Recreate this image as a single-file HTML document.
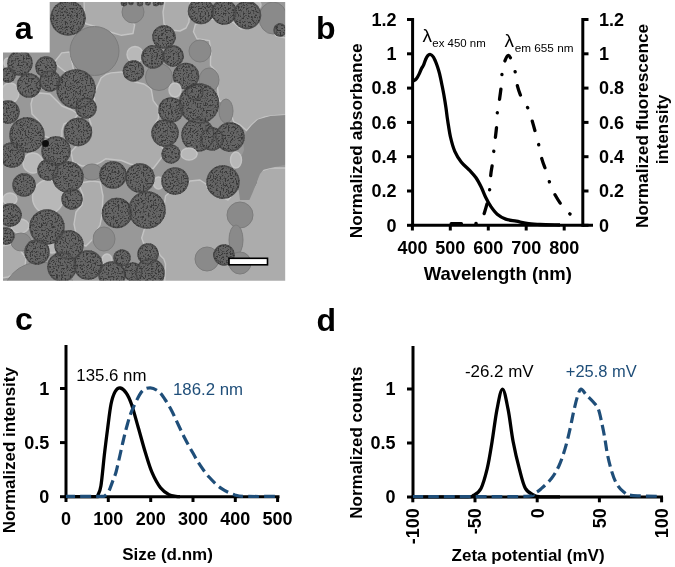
<!DOCTYPE html>
<html><head><meta charset="utf-8"><style>
html,body{margin:0;padding:0;background:#fff;}
svg{display:block;will-change:transform;}
</style></head><body>
<svg width="675" height="567" viewBox="0 0 675 567">
<rect width="675" height="567" fill="#fff"/>
<g id="tem">
<defs><clipPath id="temclip"><path d="M3,52.5 H49.7 V2 H285.2 V280.8 H3 Z"/></clipPath>
<filter id="spkf" filterUnits="userSpaceOnUse" x="0" y="0" width="290" height="285" color-interpolation-filters="sRGB"><feTurbulence type="fractalNoise" baseFrequency="0.6" numOctaves="2" seed="4"/><feColorMatrix type="matrix" values="0 0 0 0 0.22  0 0 0 0 0.22  0 0 0 0 0.22  -6 0 0 0 3.0"/><feComposite in2="SourceGraphic" operator="in"/></filter>
<filter id="tblur" x="0" y="0" width="1" height="1"><feGaussianBlur stdDeviation="0.75"/></filter></defs>
<g clip-path="url(#temclip)"><g filter="url(#tblur)">
<rect x="0" y="0" width="290" height="285" fill="#989898"/>
<polygon points="193.5,31.7 195.3,24.7 203,20.5 213,19 220,22.5 226,23.5 233,22 241,29 249,28 256,24.7 261,22 268,26 273,30 276,36 286,38 286,114.7 271,116 265,117 257,120 251.5,125 246.5,130.6 240.2,125 233.8,122 231.7,116.4 230.3,109.4 225.3,102.3 219.7,101 218.3,96.7 217.6,88.2 218.3,78.3 216.2,71.3 210.5,65.6 210.5,60 211,53 209.4,40.6 197,38.8" fill="#acacac" stroke="#c4c4c4" stroke-width="1.4" stroke-linejoin="round"/>
<polygon points="101,78 106,74.5 111,72.9 121.8,72 127,74.7 135,82 144,84 150,88 151.4,90 153.2,100.6 158.5,107.6 158.5,118.2 153.2,127 152.3,135.9 160.3,144.7 163.8,150 162,157 156.7,164 153.2,168.5 144.4,167.6 130,164 121.5,160.5 105.6,158.8 100.3,162.3 92,166 82,166 73,162 71,152 76,146.5 86,142 89,137.6 91,124 87.3,113.8 95,105.8 94,94 100.5,79.4" fill="#acacac" stroke="#c4c4c4" stroke-width="1.4" stroke-linejoin="round"/>
<polygon points="33,96 40,93 50,94 56,100 62,106 72,110 78,114 74,120 64,124 62,130 62,137 52,139 44,136 43,128 38,120 32,114 31,104" fill="#acacac" stroke="#c4c4c4" stroke-width="1.4" stroke-linejoin="round"/>
<polygon points="84,1 123,1 124,6 125,11 128,18 134.7,24.7 133,33.5 121.5,35.3 110,32 95,26.5 85,23.5" fill="#acacac" stroke="#c4c4c4" stroke-width="1.4" stroke-linejoin="round"/>
<polygon points="165,1 190,1 189,22 186,28 180,31 170,30 164,24 163,12" fill="#acacac" stroke="#c4c4c4" stroke-width="1.4" stroke-linejoin="round"/>
<polygon points="54.7,61.8 61.7,52.9 69.7,52 74,71.5 67,73.2 53.8,62.6" fill="#acacac" stroke="#c4c4c4" stroke-width="1.4" stroke-linejoin="round"/>
<polygon points="80,183 92,181 100,182 101,186 103,196 102.5,205 102,215 100,225 96,232 92,240 86,246 80,244 76,234 74,224 76,212 82,205 83,195 80,188" fill="#acacac" stroke="#c4c4c4" stroke-width="1.4" stroke-linejoin="round"/>
<polygon points="165.5,196 163.8,208 155,222 144.4,229 141.7,238 143.5,243 151.4,246 157.6,250 160.3,255.5 163.8,259 165.5,264 164.7,282 287,282 287,168 270,168 258,172 250,180 240,186 228,200 217,194.7 208,189 206,184 200,180 190,181 186,186 178,194 170,192" fill="#acacac" stroke="#c4c4c4" stroke-width="1.4" stroke-linejoin="round"/>
<polygon points="2,246 12,244 20,250 26,258 25,266 18,272 8,277 2,278" fill="#acacac" stroke="#c4c4c4" stroke-width="1.4" stroke-linejoin="round"/>
<circle cx="135" cy="54.5" r="8" fill="#b8b8b8" stroke="#c4c4c4" stroke-width="1.4" stroke-linejoin="round"/>
<ellipse cx="256" cy="5" rx="5" ry="4" fill="#b8b8b8" stroke="#c4c4c4" stroke-width="1.4" stroke-linejoin="round"/>
<ellipse cx="10" cy="93" rx="9" ry="10" fill="#b8b8b8" stroke="#c4c4c4" stroke-width="1.4" stroke-linejoin="round"/>
<circle cx="33" cy="163" r="10" fill="#b8b8b8" stroke="#c4c4c4" stroke-width="1.4" stroke-linejoin="round"/>
<ellipse cx="48" cy="197" rx="15.5" ry="17" fill="#b8b8b8" stroke="#c4c4c4" stroke-width="1.4" stroke-linejoin="round"/>
<ellipse cx="10" cy="199" rx="7" ry="6" fill="#b8b8b8" stroke="#c4c4c4" stroke-width="1.4" stroke-linejoin="round"/>
<ellipse cx="20" cy="226" rx="9" ry="7" fill="#b8b8b8" stroke="#c4c4c4" stroke-width="1.4" stroke-linejoin="round"/>
<circle cx="52" cy="247" r="6" fill="#b8b8b8" stroke="#c4c4c4" stroke-width="1.4" stroke-linejoin="round"/>
<circle cx="107" cy="179" r="5" fill="#b8b8b8" stroke="#c4c4c4" stroke-width="1.4" stroke-linejoin="round"/>
<ellipse cx="158.5" cy="183" rx="5" ry="6" fill="#b8b8b8" stroke="#c4c4c4" stroke-width="1.4" stroke-linejoin="round"/>
<ellipse cx="107" cy="260" rx="5" ry="6" fill="#b8b8b8" stroke="#c4c4c4" stroke-width="1.4" stroke-linejoin="round"/>
<ellipse cx="193" cy="153" rx="4" ry="5" fill="#b8b8b8" stroke="#c4c4c4" stroke-width="1.4" stroke-linejoin="round"/>
<ellipse cx="8" cy="63" rx="4" ry="5" fill="#b8b8b8" stroke="#c4c4c4" stroke-width="1.4" stroke-linejoin="round"/>
<circle cx="94.5" cy="51" r="24.5" fill="#8a8a8a" stroke="#7c7c7c" stroke-width="1"/>
<circle cx="133" cy="12" r="11" fill="#8a8a8a" stroke="#7c7c7c" stroke-width="1"/>
<circle cx="200" cy="51" r="11" fill="#8a8a8a" stroke="#7c7c7c" stroke-width="1"/>
<circle cx="159" cy="77" r="13.5" fill="#8a8a8a" stroke="#7c7c7c" stroke-width="1"/>
<ellipse cx="273" cy="18" rx="14" ry="16" fill="#8a8a8a" stroke="#7c7c7c" stroke-width="1"/>
<circle cx="240" cy="215" r="13" fill="#8a8a8a" stroke="#7c7c7c" stroke-width="1"/>
<ellipse cx="236" cy="240" rx="7" ry="15" fill="#8a8a8a" stroke="#7c7c7c" stroke-width="1"/>
<circle cx="207" cy="259" r="12" fill="#8a8a8a" stroke="#7c7c7c" stroke-width="1"/>
<circle cx="240" cy="263" r="11" fill="#8a8a8a" stroke="#7c7c7c" stroke-width="1"/>
<circle cx="40" cy="300" r="38" fill="#8a8a8a" stroke="#7c7c7c" stroke-width="1"/>
<ellipse cx="226" cy="111" rx="7" ry="12" fill="#8a8a8a" stroke="#7c7c7c" stroke-width="1"/>
<ellipse cx="245" cy="178" rx="12" ry="14" fill="#8a8a8a" stroke="#7c7c7c" stroke-width="1"/>
<ellipse cx="104" cy="239" rx="11" ry="12" fill="#8a8a8a" stroke="#7c7c7c" stroke-width="1"/>
<ellipse cx="21" cy="242" rx="10" ry="9" fill="#8a8a8a" stroke="#7c7c7c" stroke-width="1"/>
<ellipse cx="92" cy="172" rx="10" ry="8" fill="#8a8a8a" stroke="#7c7c7c" stroke-width="1"/>
<ellipse cx="209" cy="80" rx="10" ry="12" fill="#8a8a8a" stroke="#7c7c7c" stroke-width="1"/>
<polygon points="246,132.6 252,125 258,119.4 270.5,115.9 286,115 286,164.4 270.5,168 263.5,169.7 260,174 256.4,183 253,191.7 249.4,200 240,200 238,185 236,172 240,160 244,150 243,140" fill="#8a8a8a"/>
<g fill="#656565">
<circle cx="68" cy="18" r="17.7"/>
<circle cx="201" cy="11" r="13.2"/>
<circle cx="224" cy="12" r="12.7"/>
<circle cx="247" cy="15" r="14.2"/>
<circle cx="280" cy="30" r="6.7"/>
<circle cx="164" cy="37" r="11.7"/>
<circle cx="153" cy="57" r="11.7"/>
<circle cx="173" cy="56" r="10.7"/>
<circle cx="133.5" cy="71" r="10.7"/>
<circle cx="186" cy="76" r="13.2"/>
<circle cx="20" cy="63" r="12.7"/>
<circle cx="46" cy="67" r="10.7"/>
<circle cx="29" cy="85.5" r="12.2"/>
<circle cx="50" cy="81" r="10.7"/>
<circle cx="76" cy="89" r="19.7"/>
<circle cx="86" cy="108" r="10.7"/>
<circle cx="8" cy="112" r="11.7"/>
<circle cx="27" cy="135" r="17.7"/>
<circle cx="78" cy="132" r="14.2"/>
<circle cx="56" cy="151" r="14.7"/>
<circle cx="12" cy="155" r="12.7"/>
<circle cx="8" cy="75" r="7.7"/>
<circle cx="48" cy="170" r="10.7"/>
<circle cx="68" cy="177" r="15.7"/>
<circle cx="24" cy="185" r="11.7"/>
<circle cx="72" cy="199" r="10.7"/>
<circle cx="10" cy="215" r="11.7"/>
<circle cx="6" cy="236" r="8.7"/>
<circle cx="47" cy="227" r="17.7"/>
<circle cx="37" cy="252" r="12.7"/>
<circle cx="69" cy="245" r="14.7"/>
<circle cx="62" cy="267" r="14.7"/>
<circle cx="88" cy="265" r="14.7"/>
<circle cx="112" cy="275" r="13.7"/>
<circle cx="150" cy="273" r="14.7"/>
<circle cx="133" cy="272" r="9.7"/>
<circle cx="148" cy="254" r="10.7"/>
<circle cx="122" cy="258" r="8.7"/>
<circle cx="113" cy="175" r="13.7"/>
<circle cx="140" cy="178" r="14.7"/>
<circle cx="117" cy="213" r="15.2"/>
<circle cx="147" cy="210" r="18.7"/>
<circle cx="171" cy="154" r="9.7"/>
<circle cx="175" cy="181" r="13.7"/>
<circle cx="171" cy="110" r="12.7"/>
<circle cx="165" cy="133" r="13.7"/>
<circle cx="198" cy="135" r="16.7"/>
<circle cx="199" cy="103.5" r="20.2"/>
<circle cx="212" cy="139" r="11.7"/>
<circle cx="230" cy="137" r="14.7"/>
<circle cx="223" cy="182" r="16.7"/>
<circle cx="224" cy="255" r="10.7"/>
<circle cx="195" cy="92" r="8.7"/>
<circle cx="124" cy="3" r="3.2"/>
<circle cx="131" cy="2.5" r="2.7"/>
<circle cx="140" cy="3" r="3.2"/>
<circle cx="148" cy="2.5" r="2.9000000000000004"/>
<circle cx="156" cy="3" r="3.2"/>
<circle cx="161" cy="2.5" r="2.7"/>
</g><g fill="#000" filter="url(#spkf)">
<circle cx="68" cy="18" r="17.7"/>
<circle cx="201" cy="11" r="13.2"/>
<circle cx="224" cy="12" r="12.7"/>
<circle cx="247" cy="15" r="14.2"/>
<circle cx="280" cy="30" r="6.7"/>
<circle cx="164" cy="37" r="11.7"/>
<circle cx="153" cy="57" r="11.7"/>
<circle cx="173" cy="56" r="10.7"/>
<circle cx="133.5" cy="71" r="10.7"/>
<circle cx="186" cy="76" r="13.2"/>
<circle cx="20" cy="63" r="12.7"/>
<circle cx="46" cy="67" r="10.7"/>
<circle cx="29" cy="85.5" r="12.2"/>
<circle cx="50" cy="81" r="10.7"/>
<circle cx="76" cy="89" r="19.7"/>
<circle cx="86" cy="108" r="10.7"/>
<circle cx="8" cy="112" r="11.7"/>
<circle cx="27" cy="135" r="17.7"/>
<circle cx="78" cy="132" r="14.2"/>
<circle cx="56" cy="151" r="14.7"/>
<circle cx="12" cy="155" r="12.7"/>
<circle cx="8" cy="75" r="7.7"/>
<circle cx="48" cy="170" r="10.7"/>
<circle cx="68" cy="177" r="15.7"/>
<circle cx="24" cy="185" r="11.7"/>
<circle cx="72" cy="199" r="10.7"/>
<circle cx="10" cy="215" r="11.7"/>
<circle cx="6" cy="236" r="8.7"/>
<circle cx="47" cy="227" r="17.7"/>
<circle cx="37" cy="252" r="12.7"/>
<circle cx="69" cy="245" r="14.7"/>
<circle cx="62" cy="267" r="14.7"/>
<circle cx="88" cy="265" r="14.7"/>
<circle cx="112" cy="275" r="13.7"/>
<circle cx="150" cy="273" r="14.7"/>
<circle cx="133" cy="272" r="9.7"/>
<circle cx="148" cy="254" r="10.7"/>
<circle cx="122" cy="258" r="8.7"/>
<circle cx="113" cy="175" r="13.7"/>
<circle cx="140" cy="178" r="14.7"/>
<circle cx="117" cy="213" r="15.2"/>
<circle cx="147" cy="210" r="18.7"/>
<circle cx="171" cy="154" r="9.7"/>
<circle cx="175" cy="181" r="13.7"/>
<circle cx="171" cy="110" r="12.7"/>
<circle cx="165" cy="133" r="13.7"/>
<circle cx="198" cy="135" r="16.7"/>
<circle cx="199" cy="103.5" r="20.2"/>
<circle cx="212" cy="139" r="11.7"/>
<circle cx="230" cy="137" r="14.7"/>
<circle cx="223" cy="182" r="16.7"/>
<circle cx="224" cy="255" r="10.7"/>
<circle cx="195" cy="92" r="8.7"/>
<circle cx="124" cy="3" r="3.2"/>
<circle cx="131" cy="2.5" r="2.7"/>
<circle cx="140" cy="3" r="3.2"/>
<circle cx="148" cy="2.5" r="2.9000000000000004"/>
<circle cx="156" cy="3" r="3.2"/>
<circle cx="161" cy="2.5" r="2.7"/>
</g>
<circle cx="68" cy="18" r="16.9" fill="none" stroke="#3c3c3c" stroke-width="1.6" opacity="0.5"/>
<circle cx="201" cy="11" r="12.4" fill="none" stroke="#3c3c3c" stroke-width="1.6" opacity="0.5"/>
<circle cx="224" cy="12" r="11.9" fill="none" stroke="#3c3c3c" stroke-width="1.6" opacity="0.5"/>
<circle cx="247" cy="15" r="13.4" fill="none" stroke="#3c3c3c" stroke-width="1.6" opacity="0.5"/>
<circle cx="280" cy="30" r="5.9" fill="none" stroke="#3c3c3c" stroke-width="1.6" opacity="0.5"/>
<circle cx="164" cy="37" r="10.9" fill="none" stroke="#3c3c3c" stroke-width="1.6" opacity="0.5"/>
<circle cx="153" cy="57" r="10.9" fill="none" stroke="#3c3c3c" stroke-width="1.6" opacity="0.5"/>
<circle cx="173" cy="56" r="9.9" fill="none" stroke="#3c3c3c" stroke-width="1.6" opacity="0.5"/>
<circle cx="133.5" cy="71" r="9.9" fill="none" stroke="#3c3c3c" stroke-width="1.6" opacity="0.5"/>
<circle cx="186" cy="76" r="12.4" fill="none" stroke="#3c3c3c" stroke-width="1.6" opacity="0.5"/>
<circle cx="20" cy="63" r="11.9" fill="none" stroke="#3c3c3c" stroke-width="1.6" opacity="0.5"/>
<circle cx="46" cy="67" r="9.9" fill="none" stroke="#3c3c3c" stroke-width="1.6" opacity="0.5"/>
<circle cx="29" cy="85.5" r="11.4" fill="none" stroke="#3c3c3c" stroke-width="1.6" opacity="0.5"/>
<circle cx="50" cy="81" r="9.9" fill="none" stroke="#3c3c3c" stroke-width="1.6" opacity="0.5"/>
<circle cx="76" cy="89" r="18.9" fill="none" stroke="#3c3c3c" stroke-width="1.6" opacity="0.5"/>
<circle cx="86" cy="108" r="9.9" fill="none" stroke="#3c3c3c" stroke-width="1.6" opacity="0.5"/>
<circle cx="8" cy="112" r="10.9" fill="none" stroke="#3c3c3c" stroke-width="1.6" opacity="0.5"/>
<circle cx="27" cy="135" r="16.9" fill="none" stroke="#3c3c3c" stroke-width="1.6" opacity="0.5"/>
<circle cx="78" cy="132" r="13.4" fill="none" stroke="#3c3c3c" stroke-width="1.6" opacity="0.5"/>
<circle cx="56" cy="151" r="13.9" fill="none" stroke="#3c3c3c" stroke-width="1.6" opacity="0.5"/>
<circle cx="12" cy="155" r="11.9" fill="none" stroke="#3c3c3c" stroke-width="1.6" opacity="0.5"/>
<circle cx="8" cy="75" r="6.9" fill="none" stroke="#3c3c3c" stroke-width="1.6" opacity="0.5"/>
<circle cx="48" cy="170" r="9.9" fill="none" stroke="#3c3c3c" stroke-width="1.6" opacity="0.5"/>
<circle cx="68" cy="177" r="14.9" fill="none" stroke="#3c3c3c" stroke-width="1.6" opacity="0.5"/>
<circle cx="24" cy="185" r="10.9" fill="none" stroke="#3c3c3c" stroke-width="1.6" opacity="0.5"/>
<circle cx="72" cy="199" r="9.9" fill="none" stroke="#3c3c3c" stroke-width="1.6" opacity="0.5"/>
<circle cx="10" cy="215" r="10.9" fill="none" stroke="#3c3c3c" stroke-width="1.6" opacity="0.5"/>
<circle cx="6" cy="236" r="7.9" fill="none" stroke="#3c3c3c" stroke-width="1.6" opacity="0.5"/>
<circle cx="47" cy="227" r="16.9" fill="none" stroke="#3c3c3c" stroke-width="1.6" opacity="0.5"/>
<circle cx="37" cy="252" r="11.9" fill="none" stroke="#3c3c3c" stroke-width="1.6" opacity="0.5"/>
<circle cx="69" cy="245" r="13.9" fill="none" stroke="#3c3c3c" stroke-width="1.6" opacity="0.5"/>
<circle cx="62" cy="267" r="13.9" fill="none" stroke="#3c3c3c" stroke-width="1.6" opacity="0.5"/>
<circle cx="88" cy="265" r="13.9" fill="none" stroke="#3c3c3c" stroke-width="1.6" opacity="0.5"/>
<circle cx="112" cy="275" r="12.9" fill="none" stroke="#3c3c3c" stroke-width="1.6" opacity="0.5"/>
<circle cx="150" cy="273" r="13.9" fill="none" stroke="#3c3c3c" stroke-width="1.6" opacity="0.5"/>
<circle cx="133" cy="272" r="8.9" fill="none" stroke="#3c3c3c" stroke-width="1.6" opacity="0.5"/>
<circle cx="148" cy="254" r="9.9" fill="none" stroke="#3c3c3c" stroke-width="1.6" opacity="0.5"/>
<circle cx="122" cy="258" r="7.9" fill="none" stroke="#3c3c3c" stroke-width="1.6" opacity="0.5"/>
<circle cx="113" cy="175" r="12.9" fill="none" stroke="#3c3c3c" stroke-width="1.6" opacity="0.5"/>
<circle cx="140" cy="178" r="13.9" fill="none" stroke="#3c3c3c" stroke-width="1.6" opacity="0.5"/>
<circle cx="117" cy="213" r="14.4" fill="none" stroke="#3c3c3c" stroke-width="1.6" opacity="0.5"/>
<circle cx="147" cy="210" r="17.9" fill="none" stroke="#3c3c3c" stroke-width="1.6" opacity="0.5"/>
<circle cx="171" cy="154" r="8.9" fill="none" stroke="#3c3c3c" stroke-width="1.6" opacity="0.5"/>
<circle cx="175" cy="181" r="12.9" fill="none" stroke="#3c3c3c" stroke-width="1.6" opacity="0.5"/>
<circle cx="171" cy="110" r="11.9" fill="none" stroke="#3c3c3c" stroke-width="1.6" opacity="0.5"/>
<circle cx="165" cy="133" r="12.9" fill="none" stroke="#3c3c3c" stroke-width="1.6" opacity="0.5"/>
<circle cx="198" cy="135" r="15.9" fill="none" stroke="#3c3c3c" stroke-width="1.6" opacity="0.5"/>
<circle cx="199" cy="103.5" r="19.4" fill="none" stroke="#3c3c3c" stroke-width="1.6" opacity="0.5"/>
<circle cx="212" cy="139" r="10.9" fill="none" stroke="#3c3c3c" stroke-width="1.6" opacity="0.5"/>
<circle cx="230" cy="137" r="13.9" fill="none" stroke="#3c3c3c" stroke-width="1.6" opacity="0.5"/>
<circle cx="223" cy="182" r="15.9" fill="none" stroke="#3c3c3c" stroke-width="1.6" opacity="0.5"/>
<circle cx="224" cy="255" r="9.9" fill="none" stroke="#3c3c3c" stroke-width="1.6" opacity="0.5"/>
<circle cx="195" cy="92" r="7.9" fill="none" stroke="#3c3c3c" stroke-width="1.6" opacity="0.5"/>
<circle cx="124" cy="3" r="2.4" fill="none" stroke="#3c3c3c" stroke-width="1.6" opacity="0.5"/>
<circle cx="131" cy="2.5" r="1.9" fill="none" stroke="#3c3c3c" stroke-width="1.6" opacity="0.5"/>
<circle cx="140" cy="3" r="2.4" fill="none" stroke="#3c3c3c" stroke-width="1.6" opacity="0.5"/>
<circle cx="148" cy="2.5" r="2.1" fill="none" stroke="#3c3c3c" stroke-width="1.6" opacity="0.5"/>
<circle cx="156" cy="3" r="2.4" fill="none" stroke="#3c3c3c" stroke-width="1.6" opacity="0.5"/>
<circle cx="161" cy="2.5" r="1.9" fill="none" stroke="#3c3c3c" stroke-width="1.6" opacity="0.5"/>
<ellipse cx="189" cy="154" rx="8" ry="6" fill="#b8b8b8" stroke="#c4c4c4" stroke-width="1.4" stroke-linejoin="round"/>
<ellipse cx="175" cy="90" rx="6" ry="7" fill="#b8b8b8" stroke="#c4c4c4" stroke-width="1.4" stroke-linejoin="round"/>
<ellipse cx="236" cy="160" rx="5.5" ry="8" fill="#b8b8b8" stroke="#c4c4c4" stroke-width="1.4" stroke-linejoin="round"/>
<circle cx="45.5" cy="143.5" r="3.5" fill="#111"/>
</g></g>
<rect x="229" y="258.3" width="38.5" height="6.5" fill="#fff" stroke="#000" stroke-width="1.6"/>
</g>
<g stroke="#000" stroke-width="3" fill="none">
<path d="M412.6,18.0 V226.8"/>
<path d="M582.8,18.0 V226.8"/>
<path d="M411.1,225.3 H593"/>
<path d="M407,225.3 H412.6"/>
<path d="M582.8,225.3 H588.5"/>
<path d="M407,191.0 H412.6"/>
<path d="M582.8,191.0 H588.5"/>
<path d="M407,156.7 H412.6"/>
<path d="M582.8,156.7 H588.5"/>
<path d="M407,122.4 H412.6"/>
<path d="M582.8,122.4 H588.5"/>
<path d="M407,88.1 H412.6"/>
<path d="M582.8,88.1 H588.5"/>
<path d="M407,53.8 H412.6"/>
<path d="M582.8,53.8 H588.5"/>
<path d="M407,19.5 H412.6"/>
<path d="M582.8,19.5 H588.5"/>
<path d="M412.4,225.3 V230.5"/>
<path d="M450.3,225.3 V230.5"/>
<path d="M488.3,225.3 V230.5"/>
<path d="M526.2,225.3 V230.5"/>
<path d="M564.2,225.3 V230.5"/>
</g>
<g font-family="Liberation Sans, sans-serif" font-weight="bold" font-size="18" fill="#000">
<text x="396.5" y="231.5" text-anchor="end">0</text>
<text x="599" y="231.5">0</text>
<text x="396.5" y="197.2" text-anchor="end">0.2</text>
<text x="599" y="197.2">0.2</text>
<text x="396.5" y="162.9" text-anchor="end">0.4</text>
<text x="599" y="162.9">0.4</text>
<text x="396.5" y="128.6" text-anchor="end">0.6</text>
<text x="599" y="128.6">0.6</text>
<text x="396.5" y="94.3" text-anchor="end">0.8</text>
<text x="599" y="94.3">0.8</text>
<text x="396.5" y="60.0" text-anchor="end">1</text>
<text x="599" y="60.0">1</text>
<text x="396.5" y="25.7" text-anchor="end">1.2</text>
<text x="599" y="25.7">1.2</text>
<text x="412.4" y="253.5" text-anchor="middle">400</text>
<text x="450.3" y="253.5" text-anchor="middle">500</text>
<text x="488.3" y="253.5" text-anchor="middle">600</text>
<text x="526.2" y="253.5" text-anchor="middle">700</text>
<text x="564.2" y="253.5" text-anchor="middle">800</text>
</g>
<text font-family="Liberation Sans, sans-serif" font-weight="bold" font-size="18.5" x="497.8" y="279.8" text-anchor="middle">Wavelength (nm)</text>
<text font-family="Liberation Sans, sans-serif" font-weight="bold" font-size="17.3" transform="translate(362.2,140.8) rotate(-90)" text-anchor="middle">Normalized absorbance</text>
<text font-family="Liberation Sans, sans-serif" font-weight="bold" font-size="17.25" transform="translate(648,125.9) rotate(-90)" text-anchor="middle">Normalized fluorescence</text>
<text font-family="Liberation Sans, sans-serif" font-weight="bold" font-size="17" transform="translate(668,129.4) rotate(-90)" text-anchor="middle">intensity</text>
<path d="M412.7,81.2 C413.3,80.8 415.2,80.0 416.3,78.8 C417.4,77.6 418.4,75.6 419.2,73.9 C420.0,72.2 420.6,70.3 421.3,68.9 C422.0,67.5 422.7,66.9 423.4,65.4 C424.1,63.9 424.8,61.4 425.5,59.8 C426.2,58.2 426.8,56.7 427.6,55.8 C428.4,54.9 429.6,54.3 430.5,54.5 C431.4,54.7 432.5,55.8 433.3,56.9 C434.1,58.0 434.7,59.6 435.4,61.2 C436.1,62.9 436.8,64.7 437.5,66.8 C438.2,68.9 438.9,71.1 439.6,73.9 C440.3,76.7 441.0,80.2 441.7,83.7 C442.4,87.2 443.2,91.0 443.9,95.0 C444.6,99.0 445.4,103.8 446.0,108.0 C446.6,112.2 446.8,115.1 447.6,120.0 C448.4,124.9 449.4,132.3 450.6,137.5 C451.8,142.7 453.0,147.2 454.8,151.3 C456.6,155.4 458.7,158.7 461.2,161.9 C463.7,165.1 467.2,167.8 469.7,170.4 C472.2,173.1 474.1,175.0 476.0,177.8 C477.9,180.6 479.7,184.1 481.3,187.3 C482.9,190.5 483.9,193.7 485.5,196.9 C487.1,200.1 488.9,203.5 490.8,206.4 C492.8,209.3 494.7,212.1 497.2,214.2 C499.7,216.3 502.5,217.9 505.7,219.1 C508.9,220.3 512.8,220.5 516.3,221.2 C519.8,221.9 522.9,222.9 526.9,223.5 C530.9,224.1 534.5,224.2 540.0,224.5 C545.5,224.8 556.7,224.9 560.0,225.0" fill="none" stroke="#000" stroke-width="3.3" stroke-linejoin="round"/>
<path id="em" d="M450.0,223.6 C453.3,223.6 465.3,223.7 470.0,223.6 C474.7,223.5 476.1,223.7 478.0,223.2 C479.9,222.7 480.6,222.1 481.6,220.5 C482.6,218.9 483.1,217.0 484.1,213.8 C485.1,210.6 486.8,205.3 487.7,201.1 C488.6,196.9 489.3,192.8 489.8,188.4 C490.3,184.0 490.4,178.8 490.8,174.6 C491.2,170.4 492.0,167.2 492.5,163.0 C493.0,158.8 493.5,153.6 494.0,149.2 C494.5,144.8 495.0,140.7 495.5,136.5 C496.0,132.3 496.5,128.2 496.8,123.8 C497.1,119.5 497.1,114.1 497.5,110.4 C497.9,106.7 498.6,105.6 499.2,101.5 C499.8,97.4 500.8,90.6 501.3,85.6 C501.8,80.6 501.7,75.3 502.2,71.4 C502.7,67.5 503.5,64.7 504.5,62.0 C505.5,59.4 506.8,55.8 508.0,55.5 C509.2,55.2 510.2,57.0 511.5,60.0 C512.8,63.0 514.5,68.8 515.5,73.3 C516.5,77.8 516.5,82.5 517.6,86.7 C518.7,90.9 520.1,94.6 521.9,98.3 C523.7,102.0 526.5,105.0 528.2,108.9 C530.0,112.8 531.2,117.5 532.4,121.6 C533.6,125.6 534.5,129.1 535.6,133.2 C536.7,137.3 538.0,141.7 539.0,146.0 C540.0,150.3 540.7,154.9 541.9,159.1 C543.1,163.3 544.7,166.8 546.1,171.0 C547.5,175.2 548.6,179.9 550.2,184.0 C551.8,188.1 553.5,192.1 555.6,195.8 C557.7,199.6 560.1,203.2 562.7,206.5 C565.4,209.8 570.0,214.0 571.5,215.5" fill="none" stroke="#000" stroke-width="3.3" stroke-dasharray="9.9 14.4 0.3 14" stroke-linecap="round" stroke-dashoffset="37.1"/>
<text font-family="Liberation Sans, sans-serif" font-size="19" x="422.5" y="42">λ</text>
<text font-family="Liberation Sans, sans-serif" font-size="11" x="432.3" y="47" textLength="53.5" lengthAdjust="spacingAndGlyphs">ex 450 nm</text>
<text font-family="Liberation Sans, sans-serif" font-size="19" x="504.5" y="47.3">λ</text>
<text font-family="Liberation Sans, sans-serif" font-size="11" x="514.7" y="51.8" textLength="58.8" lengthAdjust="spacingAndGlyphs">em 655 nm</text>
<g font-family="Liberation Sans, sans-serif" font-weight="bold" font-size="32" fill="#000">
<text x="14.8" y="39.2">a</text>
<text x="316" y="39">b</text>
<text x="14.9" y="330">c</text>
<text x="316.6" y="330.7">d</text>
</g>
<g stroke="#000" stroke-width="3" fill="none">
<path d="M66,345 V498.2"/>
<path d="M64.5,496.7 H279.5"/>
<path d="M60,496.7 H66"/>
<path d="M60,442.6 H66"/>
<path d="M60,388.5 H66"/>
<path d="M66.0,496.7 V502"/>
<path d="M108.3,496.7 V502"/>
<path d="M150.7,496.7 V502"/>
<path d="M193.0,496.7 V502"/>
<path d="M235.3,496.7 V502"/>
<path d="M277.6,496.7 V502"/>
</g>
<g font-family="Liberation Sans, sans-serif" font-weight="bold" font-size="18" fill="#000">
<text x="49.3" y="502.9" text-anchor="end">0</text>
<text x="49.3" y="448.8" text-anchor="end">0.5</text>
<text x="49.3" y="394.7" text-anchor="end">1</text>
<text x="66.0" y="524.9" text-anchor="middle">0</text>
<text x="108.3" y="524.9" text-anchor="middle">100</text>
<text x="150.7" y="524.9" text-anchor="middle">200</text>
<text x="193.0" y="524.9" text-anchor="middle">300</text>
<text x="235.3" y="524.9" text-anchor="middle">400</text>
<text x="277.6" y="524.9" text-anchor="middle">500</text>
</g>
<text font-family="Liberation Sans, sans-serif" font-weight="bold" font-size="17" x="167.5" y="560" text-anchor="middle">Size (d.nm)</text>
<text font-family="Liberation Sans, sans-serif" font-weight="bold" font-size="17" transform="translate(15.3,450.2) rotate(-90)" text-anchor="middle">Normalized intensity</text>
<path d="M66.0,496.6 C70.8,496.6 89.7,496.8 95.0,496.6 C100.3,496.4 96.8,497.0 97.8,495.2 C98.8,493.4 99.8,492.6 100.9,486.0 C102.0,479.4 103.2,465.1 104.3,455.4 C105.4,445.7 106.6,436.5 107.7,428.0 C108.8,419.5 109.8,410.4 111.0,404.3 C112.2,398.2 113.7,394.2 115.2,391.5 C116.8,388.8 118.4,387.7 120.3,388.0 C122.2,388.3 124.5,390.5 126.4,393.2 C128.3,395.9 129.5,398.5 131.5,404.3 C133.5,410.1 136.1,420.1 138.4,428.0 C140.7,435.9 142.9,444.6 145.2,452.0 C147.5,459.4 149.4,466.4 152.0,472.4 C154.6,478.4 157.7,484.1 160.5,487.8 C163.3,491.5 166.4,493.2 169.0,494.6 C171.6,496.0 174.0,496.0 175.8,496.3 C177.6,496.6 179.3,496.6 180.0,496.6" fill="none" stroke="#000" stroke-width="3.3"/>
<path id="cd" d="M66.0,496.4 C71.7,496.4 93.5,496.5 100.0,496.4 C106.5,496.3 103.6,496.4 105.0,495.6 C106.4,494.8 107.6,492.9 108.5,491.5 C109.4,490.1 109.6,489.5 110.4,487.4 C111.2,485.3 112.5,481.6 113.5,479.0 C114.5,476.4 115.2,475.3 116.2,471.5 C117.2,467.7 118.6,461.2 119.8,456.0 C121.0,450.8 122.1,445.4 123.3,440.5 C124.5,435.6 125.3,431.5 126.8,426.5 C128.2,421.5 129.5,416.3 132.0,410.5 C134.5,404.7 138.8,395.4 141.8,391.6 C144.9,387.8 147.5,387.9 150.3,387.9 C153.1,387.9 156.4,389.7 158.8,391.6 C161.2,393.5 162.8,396.3 165.0,399.5 C167.2,402.7 169.6,406.8 171.8,411.0 C174.0,415.2 176.1,420.2 178.3,424.8 C180.5,429.4 182.5,433.8 184.8,438.3 C187.1,442.8 189.6,447.3 192.2,451.8 C194.8,456.3 197.2,460.9 200.1,465.2 C202.9,469.4 205.8,473.4 209.3,477.3 C212.8,481.2 217.1,485.5 221.3,488.4 C225.6,491.3 230.9,493.6 234.8,494.9 C238.8,496.2 237.8,496.1 245.0,496.4 C252.2,496.6 272.5,496.4 278.0,496.4" fill="none" stroke="#1f4e79" stroke-width="3.2" stroke-dasharray="10.8 5" stroke-dashoffset="1.55"/>
<text font-family="Liberation Sans, sans-serif" font-size="16" x="76.3" y="380.8" textLength="70.2" lengthAdjust="spacingAndGlyphs" fill="#000">135.6 nm</text>
<text font-family="Liberation Sans, sans-serif" font-size="16" x="173" y="395" textLength="70" lengthAdjust="spacingAndGlyphs" fill="#1f4e79">186.2 nm</text>
<g stroke="#000" stroke-width="3" fill="none">
<path d="M413,346 V498.5"/>
<path d="M411.5,497 H663"/>
<path d="M407,497.0 H413"/>
<path d="M407,443.0 H413"/>
<path d="M407,389.0 H413"/>
<path d="M412.8,497 V502.3"/>
<path d="M475.0,497 V502.3"/>
<path d="M537.2,497 V502.3"/>
<path d="M599.4,497 V502.3"/>
<path d="M661.6,497 V502.3"/>
</g>
<g font-family="Liberation Sans, sans-serif" font-weight="bold" font-size="18" fill="#000">
<text x="395.5" y="503.2" text-anchor="end">0</text>
<text x="395.5" y="449.2" text-anchor="end">0.5</text>
<text x="395.5" y="395.2" text-anchor="end">1</text>
<text transform="translate(419.2,508.3) rotate(-90)" text-anchor="end">-100</text>
<text transform="translate(481.4,508.3) rotate(-90)" text-anchor="end">-50</text>
<text transform="translate(543.6,508.3) rotate(-90)" text-anchor="end">0</text>
<text transform="translate(605.8,508.3) rotate(-90)" text-anchor="end">50</text>
<text transform="translate(668.0,508.3) rotate(-90)" text-anchor="end">100</text>
</g>
<text font-family="Liberation Sans, sans-serif" font-weight="bold" font-size="17" x="528.1" y="560.7" text-anchor="middle">Zeta potential (mV)</text>
<text font-family="Liberation Sans, sans-serif" font-weight="bold" font-size="17" transform="translate(362.2,442.7) rotate(-90)" text-anchor="middle">Normalized counts</text>
<path d="M413.0,496.8 C421.7,496.8 454.9,497.1 465.0,496.8 C475.1,496.6 470.9,496.7 473.6,495.3 C476.3,493.9 478.7,492.8 481.0,488.4 C483.3,483.9 485.3,476.4 487.2,468.6 C489.1,460.8 490.5,451.4 492.1,441.5 C493.7,431.6 495.3,418.1 497.0,409.4 C498.7,400.7 500.6,389.1 502.5,389.1 C504.4,389.1 506.3,400.7 508.1,409.4 C509.9,418.1 511.2,431.6 513.1,441.5 C515.0,451.4 517.2,460.8 519.3,468.6 C521.3,476.4 522.9,483.9 525.4,488.4 C527.9,492.8 531.6,493.9 534.0,495.3 C536.4,496.7 535.7,496.6 540.0,496.8 C544.3,497.1 556.7,496.8 560.0,496.8" fill="none" stroke="#000" stroke-width="3.3"/>
<path id="dd" d="M413.0,496.5 C430.8,496.5 499.8,497.0 520.0,496.5 C540.2,496.0 530.4,494.7 534.0,493.3 C537.6,491.9 538.6,490.9 541.5,488.4 C544.4,485.9 548.5,482.2 551.4,478.5 C554.3,474.8 556.5,471.1 558.8,466.2 C561.1,461.3 563.1,455.1 565.0,448.9 C566.9,442.7 568.6,435.3 570.0,429.1 C571.4,422.9 572.4,417.2 573.6,411.9 C574.8,406.5 576.1,400.8 577.3,397.0 C578.5,393.2 579.5,389.5 581.0,389.1 C582.5,388.7 584.0,392.5 586.0,394.6 C588.0,396.8 591.2,399.6 593.3,402.0 C595.3,404.4 596.8,405.3 598.3,409.0 C599.8,412.7 600.9,418.9 602.0,424.0 C603.1,429.1 604.1,434.2 605.0,439.4 C605.9,444.6 606.5,449.9 607.6,455.2 C608.7,460.5 610.1,466.2 611.6,471.1 C613.1,476.0 614.9,480.9 616.9,484.3 C618.9,487.7 621.1,489.9 623.5,491.7 C625.9,493.5 625.6,494.6 631.4,495.4 C637.1,496.2 653.6,496.1 658.0,496.3" fill="none" stroke="#1f4e79" stroke-width="3.2" stroke-dasharray="10.8 5" stroke-dashoffset="0.55"/>
<text font-family="Liberation Sans, sans-serif" font-size="16" x="464.9" y="377.3" textLength="68.7" lengthAdjust="spacingAndGlyphs" fill="#000">-26.2 mV</text>
<text font-family="Liberation Sans, sans-serif" font-size="16" x="565.8" y="377.2" textLength="70.9" lengthAdjust="spacingAndGlyphs" fill="#1f4e79">+25.8 mV</text>
</svg>
</body></html>
